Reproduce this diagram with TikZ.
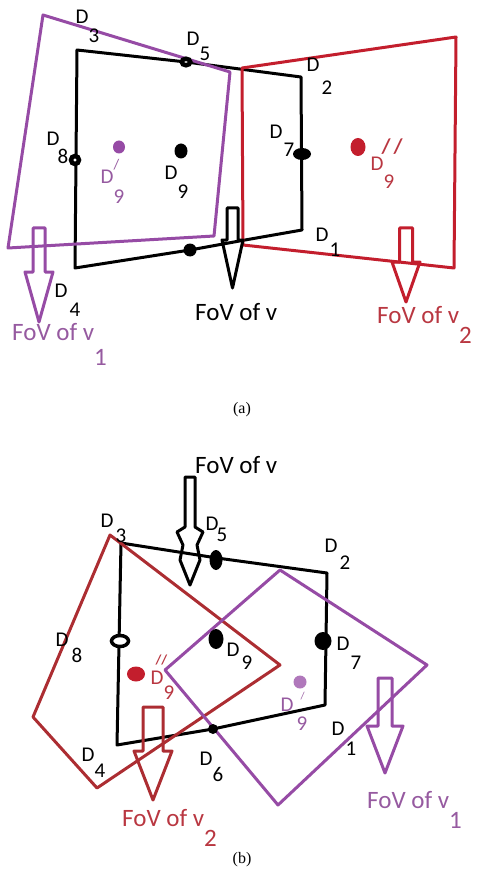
\documentclass[tikz,border=0pt]{standalone}
\usepackage{fontspec}
\setmainfont{Carlito}
\newfontfamily\capfont{Liberation Serif}
\newfontfamily\fovfont{Carlito}
\usetikzlibrary{shapes.geometric}
\definecolor{vpurple}{RGB}{150,75,165}
\definecolor{vred}{RGB}{195,30,45}
\definecolor{vbrown}{RGB}{172,45,50}
\definecolor{tpurple}{RGB}{150,90,160}
\definecolor{tred}{RGB}{185,55,65}
\newcommand\Dl[3][0]{D\kern#1pt\raisebox{-#2pt}{#3}}
% style, centre x, top y, shaft half width, head y, head half width, tip y
\newcommand\fovarrow[7]{\draw[#1] ({#2-#4},#3) -- ({#2+#4},#3) -- ({#2+#4},#5) -- ({#2+#6},#5) -- (#2,#7) -- ({#2-#6},#5) -- ({#2-#4},#5) -- cycle;}
\newcommand\lab[5][]{\node[lbl,#1,anchor=base west] (#2) at ({#3-6.5},{#4+6.6}) {#5};}
\begin{document}
\begin{tikzpicture}[x=1pt,y=-1pt,
  edge/.style={line width=3pt,line join=round,line cap=round},
  blk/.style={edge,draw=black},
  pur/.style={edge,draw=vpurple},
  redl/.style={edge,draw=vred},
  brownl/.style={edge,draw=vbrown},
  lbl/.style={font=\fontsize{21}{23}\selectfont,inner sep=0pt},
  fov/.style={font=\fovfont\fontsize{25}{27}\selectfont,inner sep=0pt,anchor=base west},
  dot/.style={ellipse,fill=black,inner sep=0pt},
  ring/.style={ellipse,draw=black,line width=3.5pt,fill=white,inner sep=0pt},
  captext/.style={font=\capfont\fontsize{16}{18}\selectfont,inner sep=0pt}]
\useasboundingbox (0,0) rectangle (485,885);
% ---------------- (a) ----------------
\draw[blk] (77,50) -- (186,62) -- (301,77) -- (302,230) -- (245,240) -- (190,250) -- (75,268) -- cycle;
\draw[pur] (43,15) -- (230,72) -- (214,236) -- (8,248) -- cycle;
\draw[redl] (242,68) -- (456,37) -- (454,268) -- (243,245) -- cycle;
\fovarrow{blk}{232.5}{208}{5.5}{240}{10.5}{288}
\fovarrow{pur}{39}{228}{6}{272}{14}{322}
\fovarrow{redl}{406}{228}{6.5}{262}{14}{302}
\node[ring,line width=4.5pt,minimum width=8.5pt,minimum height=6.5pt] (a5) at (186,62) {};
\node[ring,line width=4.5pt,minimum width=8pt,minimum height=8pt] (a8) at (75,160) {};
\node[dot,minimum width=13pt,minimum height=15pt] (a9) at (181,151) {};
\node[dot,fill=vpurple,minimum width=12pt,minimum height=13pt] (a9p) at (119,147) {};
\node[dot,minimum width=18pt,minimum height=12pt] (a7) at (302,154) {};
\node[dot,fill=vred,minimum width=15pt,minimum height=18pt] (a9r) at (358,147) {};
\node[dot,minimum width=13pt,minimum height=13pt] (a6) at (190,250) {};
\lab{la3}{82}{17}{\Dl{19}{3}}
\lab{la5}{193}{39}{\Dl{15}{5}}
\lab{la2}{313}{65}{\Dl[2]{23}{2}}
\lab{la8}{53}{139}{\Dl[-2]{18}{8}}
\lab[tpurple]{la9p}{107}{177}{D\rlap{\raisebox{14pt}{\scalebox{0.7}{/}}}\raisebox{-20pt}{9}}
\lab{la9}{171}{173}{\Dl{19}{9}}
\lab{la7}{276}{132}{\Dl[1]{18}{7}}
\lab[tred]{la9r}{377}{164}{D\rlap{\kern-2pt\raisebox{17pt}{\textbf{/\kern3pt/}}}\raisebox{-18pt}{9}}
\lab{la1}{322}{235}{\Dl[1]{15}{1}}
\lab{la4}{61}{291}{\Dl[2]{19}{4}}
\node[fov] (fova) at (195,320) {FoV of v};
\node[fov,tpurple] (fova1) at (12,340) {FoV of v\raisebox{-25pt}{1}};
\node[fov,tred] (fova2) at (377,323) {FoV of v\raisebox{-20pt}{2}};
\node[captext] (capa) at (242,410) {(a)};
% ---------------- (b) ----------------
\draw[blk] (121,543) -- (217,558) -- (327,573) -- (325,705) -- (213,729) -- (117,745) -- cycle;
\draw[brownl] (110,535) -- (280,665) -- (97,788) -- (33,717) -- cycle;
\draw[pur] (280,570) -- (427,665) -- (278,805) -- (165,670) -- cycle;
\draw[blk] (185,477) -- (195,477) -- (195,527) -- (203,532) -- (197,545) -- (200,560) -- (190,585) -- (180,560) -- (183,545) -- (177,532) -- (185,527) -- cycle;
\fovarrow{brownl}{153}{707}{10}{751}{19}{800}
\fovarrow{pur}{385}{678}{7}{726}{18}{773}
\node[dot,minimum width=13pt,minimum height=20pt] (b5) at (216,560) {};
\node[ring,minimum width=17pt,minimum height=11pt] (b8) at (120,641) {};
\node[dot,minimum width=15pt,minimum height=20pt] (b9) at (216,639) {};
\node[dot,minimum width=17pt,minimum height=18pt] (b7) at (323,641) {};
\node[dot,fill=vred,minimum width=18pt,minimum height=15pt] (b9r) at (136,674) {};
\node[dot,fill=vpurple!75,minimum width=13pt,minimum height=13pt] (b9p) at (300,682) {};
\node[dot,minimum width=10pt,minimum height=10pt] (b6) at (213,729) {};
\lab{lb3}{107}{521}{\Dl[2]{15}{3}}
\lab{lb5}{212}{524}{\Dl[-2]{11}{5}}
\lab{lb2}{331}{546}{\Dl[2]{17}{2}}
\lab{lb8}{62}{640}{\Dl[3]{16}{8}}
\lab{lb9}{233}{650}{\Dl[2]{13}{9}}
\lab{lb7}{343}{644}{\Dl[1]{19}{7}}
\lab[tred]{lb9r}{157}{678}{D\rlap{\kern-8pt\raisebox{20pt}{\scalebox{0.65}{\textbf{//}}}}\raisebox{-15pt}{9}}
\lab[tpurple]{lb9p}{287}{705}{D\rlap{\kern7pt\raisebox{12pt}{\scalebox{0.5}{/}}}\kern3pt\raisebox{-19pt}{9}}
\lab{lb1}{338}{729}{\Dl[1]{20}{1}}
\lab{lb4}{88}{755}{\Dl{16}{4}}
\lab{lb6}{206}{759}{\Dl{16}{6}}
\node[fov] (fovb) at (195,473) {FoV of v};
\node[fov,tred] (fovb2) at (122,826) {FoV of v\raisebox{-20pt}{2}};
\node[fov,tpurple] (fovb1) at (367,808) {FoV of v\raisebox{-20pt}{1}};
\node[captext] (capb) at (242,860) {(b)};
\end{tikzpicture}
\end{document}
